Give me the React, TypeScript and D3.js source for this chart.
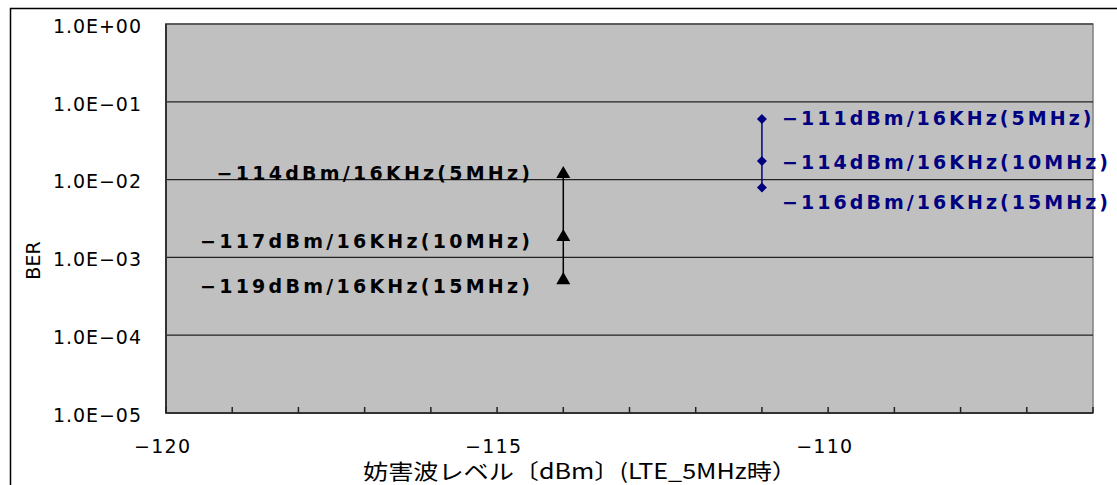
import React from "react";
import * as d3 from "d3";

const W = 1117;
const H = 485;

const xMajorTicks = [-120, -115, -110];
const xMinorTicks = d3.range(-120, -105, 1);
const yTicks = [1, 1e-1, 1e-2, 1e-3, 1e-4, 1e-5];
const yTickLabels = ["1.0E+00", "1.0E−01", "1.0E−02", "1.0E−03", "1.0E−04", "1.0E−05"];

const blackX = -114;
const blackValues = [0.0118, 0.00183, 0.00051];
const blackLabels = ["−114dBm/16KHz(5MHz)", "−117dBm/16KHz(10MHz)", "−119dBm/16KHz(15MHz)"];

const blueX = -111;
const blueValues = [0.06, 0.0173, 0.0079];
const blueLabels = ["−111dBm/16KHz(5MHz)", "−114dBm/16KHz(10MHz)", "−116dBm/16KHz(15MHz)"];

const xTitle = "妨害波レベル〔dBm〕(LTE_5MHz時）";
const yTitle = "BER";

const plot = { left: 166, right: 1093, top: 24, bottom: 413 };

export default function App() {
  const x = d3.scaleLinear().domain([-120, -106]).range([plot.left, plot.right]);
  const y = d3.scaleLog().domain([1e-5, 1]).range([plot.bottom, plot.top]);

  const tri = d3.symbol().type(d3.symbolTriangle).size(85)() as string;
  const dia = d3.symbol().type(d3.symbolSquare).size(50)() as string;

  const labelFont = "'DejaVu Sans', 'Liberation Sans', sans-serif";
  const axisFont = "'DejaVu Sans', 'Liberation Sans', sans-serif";
  const blackDy = [-1, 4, 6];
  const blueDy = [-1, 1, 15];
  const charW = 16.6;

  return (
    <div style={{ position: "absolute", left: 0, top: 0 }}>
      <svg width={W} height={H} style={{ display: "block", background: "#fff" }}>
        <rect x={10.5} y={8.5} width={W + 20} height={H + 20} fill="#fff" stroke="#000" strokeWidth={1.5} />
        <rect x={plot.left} y={plot.top} width={plot.right - plot.left} height={plot.bottom - plot.top} fill="#c0c0c0" stroke="#808080" strokeWidth={1.5} />
        {yTicks.map((t, i) => (
          <g key={i}>
            <line x1={plot.left - 1} x2={plot.right} y1={y(t)} y2={y(t)} stroke="#222" strokeWidth={1.2} />
            <text x={141} y={y(t) + 2} dy="0.36em" textAnchor="end" fontSize={19} fontFamily={axisFont} fill="#000"
              textLength={88} lengthAdjust="spacing">
              {yTickLabels[i]}
            </text>
          </g>
        ))}
        <line x1={plot.left} x2={plot.left} y1={plot.top} y2={plot.bottom} stroke="#333" strokeWidth={2} />
        <line x1={plot.left} x2={plot.right} y1={plot.bottom} y2={plot.bottom} stroke="#333" strokeWidth={2} />
        {xMinorTicks.map((t) => (
          <line key={t} x1={x(t)} x2={x(t)} y1={plot.bottom} y2={plot.bottom - 6} stroke="#222" strokeWidth={1.5} />
        ))}
        {xMajorTicks.map((t) => (
          <text key={t} x={x(t) - 4} y={446} dy="0.36em" textAnchor="middle" fontSize={19} fontFamily={axisFont} fill="#000"
            textLength={56} lengthAdjust="spacing">
            {t < 0 ? "−" + Math.abs(t) : t}
          </text>
        ))}
        <text x={580} y={471} dy="0.36em" textAnchor="middle" fontSize={21} fontFamily="'Noto Sans CJK JP', sans-serif" fill="#000"
          textLength={434} lengthAdjust="spacingAndGlyphs">
          {xTitle}
        </text>
        <text transform={`translate(33,${(plot.top + plot.bottom) / 2 + 42}) rotate(-90)`} textAnchor="middle" dy="0.36em" fontSize={19} fontFamily={axisFont} fill="#000">
          {yTitle}
        </text>

        {/* black series */}
        <line x1={x(blackX)} x2={x(blackX)} y1={y(d3.max(blackValues)!)} y2={y(d3.min(blackValues)!)} stroke="#000" strokeWidth={1.5} />
        {blackValues.map((v, i) => (
          <path key={i} d={tri} transform={`translate(${x(blackX)},${y(v)})`} fill="#000" />
        ))}
        {blackLabels.map((s, i) => (
          <text key={i} x={530} y={y(blackValues[i]) + blackDy[i]} dy="0.36em" textAnchor="end" fontSize={19} fontWeight="bold"
            fontFamily={labelFont} fill="#000" textLength={s.length * charW - 2} lengthAdjust="spacing">
            {s}
          </text>
        ))}

        {/* blue series */}
        <line x1={x(blueX)} x2={x(blueX)} y1={y(d3.max(blueValues)!)} y2={y(d3.min(blueValues)!)} stroke="#000080" strokeWidth={1.5} />
        {blueValues.map((v, i) => (
          <path key={i} d={dia} transform={`translate(${x(blueX)},${y(v)}) rotate(45)`} fill="#000080" />
        ))}
        {blueLabels.map((s, i) => (
          <text key={i} x={782} y={y(blueValues[i]) + blueDy[i]} dy="0.36em" textAnchor="start" fontSize={19} fontWeight="bold"
            fontFamily={labelFont} fill="#000080" textLength={s.length * charW - 6} lengthAdjust="spacing">
            {s}
          </text>
        ))}
      </svg>
    </div>
  );
}
